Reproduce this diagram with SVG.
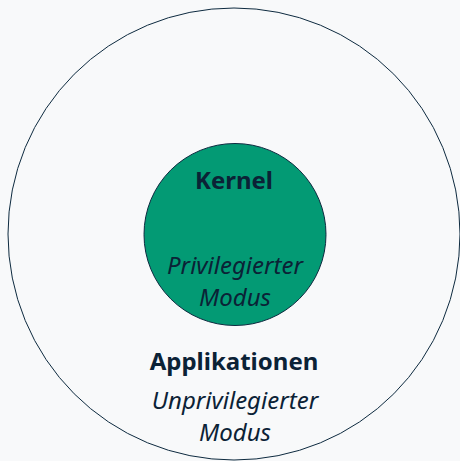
<svg xmlns="http://www.w3.org/2000/svg" width="460" height="461" viewBox="0 0 460 461">
  <style>
    .ring { fill: none; stroke: #0d2a3f; stroke-width: 1; }
    .core { fill: #039a74; stroke: #0d2a3f; stroke-width: 1; }
    .title { font-family: "Noto Sans", "Liberation Sans", sans-serif; font-weight: bold; font-size: 24px; fill: #0b2236; text-anchor: middle; }
    .mode { font-family: "Noto Sans", "Liberation Sans", sans-serif; font-style: italic; font-size: 24px; fill: #0b2236; text-anchor: middle; }
  </style>
  <rect width="460" height="461" fill="#f8f9fa"/>
  <!-- user space: outer ring -->
  <g id="applikationen">
    <circle class="ring" cx="234" cy="234" r="226"/>
    <text class="title" x="234" y="370">Applikationen</text>
    <text class="mode" x="235" y="409">Unprivilegierter</text>
    <text class="mode" x="235" y="441">Modus</text>
  </g>
  <!-- kernel space: inner disc -->
  <g id="kernel">
    <circle class="core" cx="235" cy="234.5" r="91"/>
    <text class="title" x="234" y="189">Kernel</text>
    <text class="mode" x="235" y="274">Privilegierter</text>
    <text class="mode" x="235" y="306">Modus</text>
  </g>
</svg>
